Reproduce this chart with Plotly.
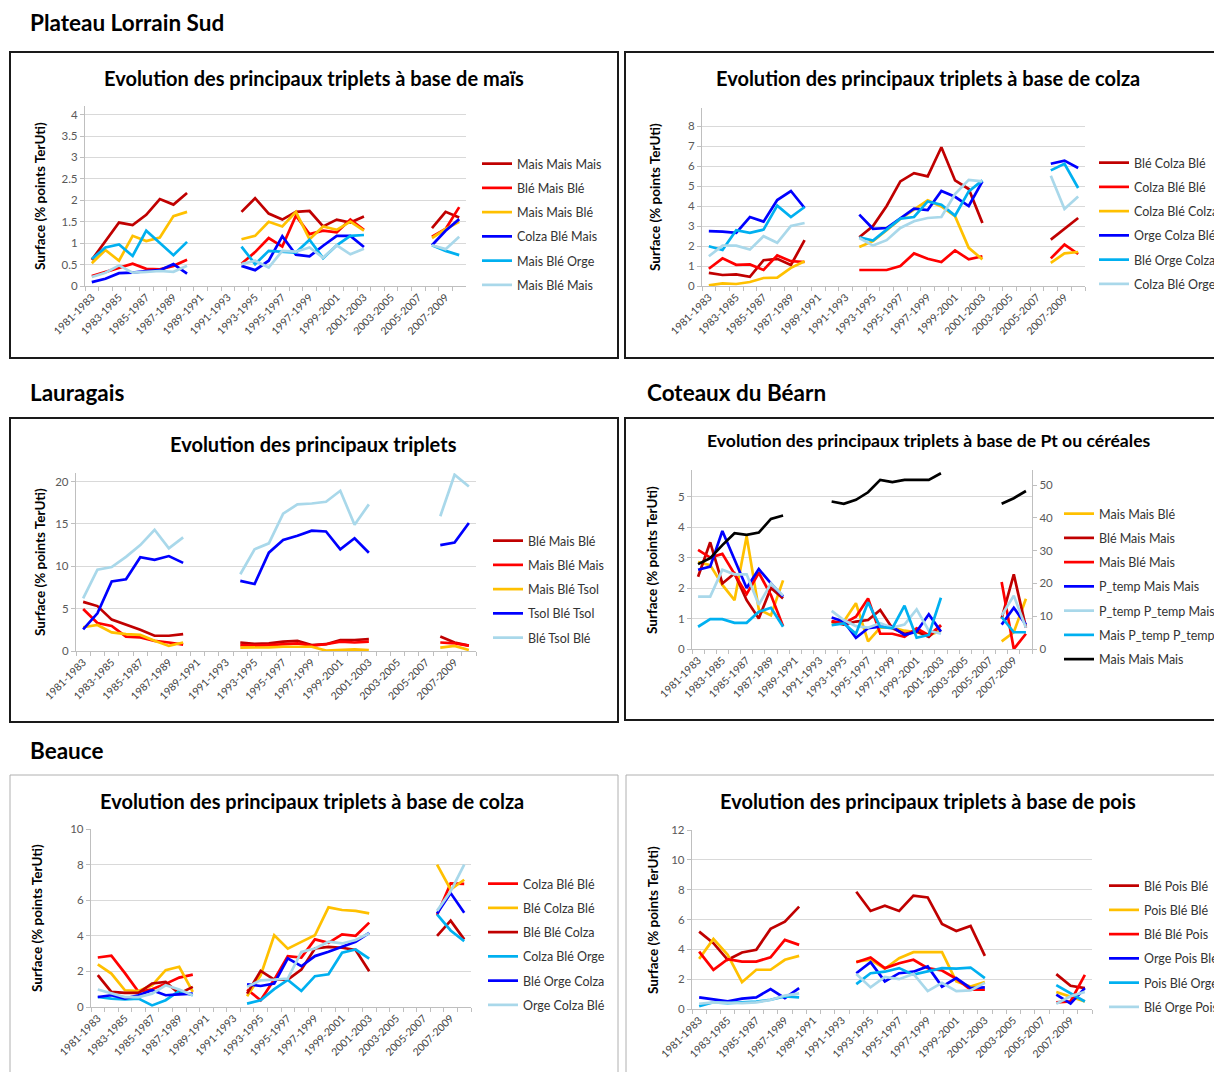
import plotly.graph_objects as go

N = None
FONT = "Lato"

# ---------------- categories ----------------
PERIODS = ["1981-1983", "1982-1984", "1983-1985", "1984-1986", "1985-1987", "1986-1988",
           "1987-1989", "1988-1990", "1989-1991", "1990-1992", "1991-1993", "1992-1994",
           "1993-1995", "1994-1996", "1995-1997", "1996-1998", "1997-1999", "1998-2000",
           "1999-2001", "2000-2002", "2001-2003", "2002-2004", "2003-2005", "2004-2006",
           "2005-2007", "2006-2008", "2007-2009", "2008-2010"]
SHOWN_TICKS = ["1981-1983", "1983-1985", "1985-1987", "1987-1989", "1989-1991", "1991-1993",
               "1993-1995", "1995-1997", "1997-1999", "1999-2001", "2001-2003", "2003-2005",
               "2005-2007", "2007-2009"]

# ---------------- Plateau Lorrain Sud : maïs ----------------
P1_NAMES = ["Mais Mais Mais", "Blé Mais Blé", "Mais Mais Blé", "Colza Blé Mais", "Mais Blé Orge", "Mais Blé Mais"]
P1_MAIS_MAIS_MAIS = [0.61, 1.06, 1.48, 1.42, 1.66, 2.03, 1.9, 2.17, N, N, N,
                     1.73, 2.05, 1.69, 1.55, 1.73, 1.75, 1.39, 1.55, 1.48, 1.62, N, N, N, N, 1.35, 1.73, 1.6]
P1_BLE_MAIS_BLE = [0.23, 0.33, 0.42, 0.52, 0.4, 0.39, 0.47, 0.61, N, N, N,
                   0.52, 0.79, 1.12, 0.92, 1.64, 1.21, 1.29, 1.25, 1.55, 1.31, N, N, N, N, 1.15, 1.33, 1.84]
P1_MAIS_MAIS_BLE = [0.53, 0.84, 0.59, 1.17, 1.05, 1.13, 1.63, 1.73, N, N, N,
                    1.09, 1.17, 1.5, 1.39, 1.73, 1.09, 1.39, 1.31, 1.5, 1.29, N, N, N, N, 1.12, 1.33, 1.5]
P1_COLZA_BLE_MAIS = [0.09, 0.17, 0.3, 0.31, 0.35, 0.37, 0.51, 0.29, N, N, N,
                     0.47, 0.37, 0.59, 1.16, 0.73, 0.69, 0.94, 1.17, 1.17, 0.91, N, N, N, N, 0.95, 1.29, 1.56]
P1_MAIS_BLE_ORGE = [0.63, 0.9, 0.97, 0.7, 1.29, 1.0, 0.72, 1.03, N, N, N,
                    0.92, 0.51, 0.82, 0.8, 0.78, 1.08, 0.65, 0.95, 1.17, 1.19, N, N, N, N, 0.95, 0.82, 0.72]
P1_MAIS_BLE_MAIS = [0.21, 0.31, 0.48, 0.31, 0.33, 0.35, 0.33, 0.47, N, N, N,
                    0.51, 0.59, 0.43, 0.82, 0.8, 0.9, 0.66, 0.95, 0.74, 0.87, N, N, N, N, 0.95, 0.86, 1.15]

# ---------------- Plateau Lorrain Sud : colza ----------------
P2_NAMES = ["Blé Colza Blé", "Colza Blé Blé", "Colza Blé Colza", "Orge Colza Blé", "Blé Orge Colza", "Colza Blé Orge"]
P2_BLE_COLZA_BLE = [0.66, 0.55, 0.58, 0.46, 1.29, 1.36, 1.05, 2.29, N, N, N,
                    2.44, 3.0, 4.0, 5.23, 5.64, 5.48, 6.94, 5.28, 4.85, 3.15, N, N, N, N, 2.32, 2.85, 3.4]
P2_COLZA_BLE_BLE = [0.86, 1.38, 1.06, 1.08, 0.8, 1.53, 1.24, 1.2, N, N, N,
                    0.8, 0.8, 0.8, 1.0, 1.63, 1.36, 1.2, 1.78, 1.33, 1.49, N, N, N, N, 1.38, 2.07, 1.6]
P2_COLZA_BLE_COLZA = [0.03, 0.13, 0.1, 0.2, 0.4, 0.42, 0.91, 1.24, N, N, N,
                      1.95, 2.24, 2.79, 3.35, 3.82, 4.28, 3.98, 3.49, 1.91, 1.33, N, N, N, N, 1.16, 1.63, 1.7]
P2_ORGE_COLZA_BLE = [2.74, 2.72, 2.66, 3.45, 3.22, 4.3, 4.75, 3.9, N, N, N,
                     3.57, 2.86, 2.9, 3.4, 3.87, 3.8, 4.75, 4.46, 4.0, 5.23, N, N, N, N, 6.11, 6.27, 5.9]
P2_BLE_ORGE_COLZA = [1.99, 1.8, 2.79, 2.66, 2.82, 4.02, 3.45, 3.95, N, N, N,
                     2.44, 2.27, 2.82, 3.37, 3.45, 4.23, 4.06, 3.52, 4.73, 5.28, N, N, N, N, 5.78, 6.11, 4.9]
P2_COLZA_BLE_ORGE = [1.49, 2.02, 2.02, 1.82, 2.49, 2.16, 3.0, 3.15, N, N, N,
                     2.4, 2.02, 2.29, 2.9, 3.24, 3.4, 3.45, 4.6, 5.31, 5.23, N, N, N, N, 5.51, 3.85, 4.48]

# ---------------- Lauragais ----------------
P3_NAMES = ["Blé Mais Blé", "Mais Blé Mais", "Mais Blé Tsol", "Tsol Blé Tsol", "Blé Tsol Blé"]
P3_BLE_MAIS_BLE = [5.8, 5.3, 3.7, 3.1, 2.5, 1.8, 1.8, 2.0, N, N, N,
                   1.0, 0.83, 0.9, 1.1, 1.2, 0.7, 0.8, 1.3, 1.3, 1.4, N, N, N, N, 1.7, 1.0, 0.63]
P3_MAIS_BLE_MAIS = [4.95, 3.3, 2.95, 1.7, 1.6, 1.2, 1.0, 0.75, N, N, N,
                    0.7, 0.63, 0.7, 0.83, 0.9, 0.63, 0.8, 1.1, 1.0, 1.1, N, N, N, N, 1.0, 0.9, 0.63]
P3_MAIS_BLE_TSOL = [2.8, 3.07, 2.2, 2.0, 1.9, 1.2, 0.6, 1.0, N, N, N,
                    0.4, 0.4, 0.43, 0.5, 0.5, 0.5, 0.05, 0.12, 0.2, 0.12, N, N, N, N, 0.4, 0.6, 0.12]
P3_TSOL_BLE_TSOL = [2.56, 4.45, 8.2, 8.46, 11.06, 10.75, 11.2, 10.4, N, N, N,
                    8.27, 7.9, 11.6, 13.1, 13.6, 14.2, 14.1, 12.0, 13.3, 11.6, N, N, N, N, 12.5, 12.8, 15.1]
P3_BLE_TSOL_BLE = [6.2, 9.6, 9.9, 11.1, 12.5, 14.3, 12.1, 13.4, N, N, N,
                   9.06, 12.0, 12.7, 16.2, 17.3, 17.4, 17.6, 18.9, 14.9, 17.3, N, N, N, N, 15.9, 20.8, 19.4]

# ---------------- Coteaux du Béarn ----------------
P4_NAMES = ["Mais Mais Blé", "Blé Mais Mais", "Mais Blé Mais", "P_temp Mais Mais",
            "P_temp P_temp Mais", "Mais P_temp P_temp", "Mais Mais Mais"]
P4_MAIS_MAIS_BLE = [2.85, 2.75, 2.1, 1.6, 3.7, 1.3, 1.1, 2.25, N, N, N,
                    0.85, 0.9, 1.5, 0.25, 0.7, 0.7, 0.6, 0.55, 0.45, 0.6, N, N, N, N, 0.25, 0.55, 1.65]
P4_BLE_MAIS_MAIS = [2.37, 3.5, 2.15, 2.48, 1.6, 1.0, 2.0, 1.66, N, N, N,
                    0.9, 0.8, 0.9, 0.95, 1.28, 0.68, 0.5, 0.57, 0.4, 0.78, N, N, N, N, 1.0, 2.45, 0.7]
P4_MAIS_BLE_MAIS = [3.25, 3.0, 3.12, 2.45, 1.8, 2.5, 1.77, 0.75, N, N, N,
                    0.92, 0.84, 1.06, 1.66, 0.5, 0.5, 0.4, 0.68, 0.45, 0.78, N, N, N, N, 2.2, 0.0, 0.5]
P4_PTEMP_MAIS_MAIS = [2.6, 2.7, 3.87, 2.92, 2.0, 2.62, 2.15, 1.72, N, N, N,
                      1.03, 0.9, 0.37, 0.68, 0.73, 0.73, 0.46, 0.57, 1.14, 0.57, N, N, N, N, 0.8, 1.35, 0.8]
P4_PTEMP_PTEMP_MAIS = [1.72, 1.72, 2.6, 2.45, 2.45, 1.45, 2.15, 1.75, N, N, N,
                       1.25, 0.95, 0.75, 0.7, 0.85, 0.7, 0.8, 1.3, 0.6, 0.5, N, N, N, N, 1.1, 1.75, 0.7]
P4_MAIS_PTEMP_PTEMP = [0.73, 0.98, 0.98, 0.86, 0.86, 1.22, 1.35, 0.73, N, N, N,
                       0.78, 0.84, 0.5, 1.53, 0.73, 0.68, 1.42, 0.37, 0.46, 1.68, N, N, N, N, 1.05, 0.55, 0.55]
P4_MAIS_MAIS_MAIS_RIGHT = [25.9, 27.7, 31.7, 35.3, 34.8, 35.5, 39.7, 40.7, N, N, N,
                           45.0, 44.3, 45.5, 47.8, 51.6, 50.9, 51.6, 51.6, 51.6, 53.6, N, N, N, N, 44.3, 46.0, 48.2]

# ---------------- Beauce : colza ----------------
P5_NAMES = ["Colza Blé Blé", "Blé Colza Blé", "Blé Blé Colza", "Colza Blé Orge", "Blé Orge Colza", "Orge Colza Blé"]
P5_COLZA_BLE_BLE = [2.78, 2.88, 1.9, 0.85, 1.0, 1.3, 1.65, 1.82, N, N, N,
                    0.98, 0.38, 1.54, 2.86, 2.78, 3.8, 3.6, 4.08, 4.0, 4.74, N, N, N, N, 5.17, 6.95, 6.92]
P5_BLE_COLZA_BLE = [2.4, 1.88, 0.94, 0.9, 1.22, 2.07, 2.26, 0.85, N, N, N,
                    0.6, 1.78, 4.03, 3.28, 3.66, 4.03, 5.6, 5.45, 5.4, 5.26, N, N, N, N, 8.0, 6.6, 7.15]
P5_BLE_BLE_COLZA = [1.79, 0.85, 0.79, 0.79, 1.32, 1.41, 0.75, 1.13, N, N, N,
                    0.75, 2.03, 1.54, 1.54, 2.1, 3.29, 3.38, 3.33, 3.2, 2.01, N, N, N, N, 4.0, 4.85, 3.8]
P5_COLZA_BLE_ORGE = [0.56, 0.47, 0.43, 0.47, 0.09, 0.38, 0.9, 0.66, N, N, N,
                     0.19, 0.38, 1.0, 1.52, 0.9, 1.73, 1.84, 3.05, 3.23, 2.72, N, N, N, N, 5.2, 4.3, 3.7]
P5_BLE_ORGE_COLZA = [0.56, 0.66, 0.47, 0.66, 0.94, 0.66, 0.71, 0.75, N, N, N,
                     1.28, 1.18, 1.32, 2.73, 2.29, 2.86, 3.1, 3.38, 3.67, 4.17, N, N, N, N, 5.25, 6.4, 5.3]
P5_ORGE_COLZA_BLE = [0.98, 0.75, 0.56, 0.56, 0.75, 1.22, 0.98, 0.66, N, N, N,
                     1.13, 1.5, 1.54, 1.6, 3.1, 3.29, 3.67, 3.57, 3.76, 4.14, N, N, N, N, 5.4, 6.5, 8.0]

# ---------------- Beauce : pois ----------------
P6_NAMES = ["Blé Pois Blé", "Pois Blé Blé", "Blé Blé Pois", "Orge Pois Blé", "Pois Blé Orge", "Blé Orge Pois"]
P6_BLE_POIS_BLE = [5.19, 4.41, 3.3, 3.79, 3.97, 5.37, 5.86, 6.86, N, N, N,
                   7.86, 6.57, 6.93, 6.57, 7.6, 7.48, 5.7, 5.23, 5.57, 3.56, N, N, N, N, 2.34, 1.56, 1.4]
P6_POIS_BLE_BLE = [3.36, 4.7, 3.63, 1.8, 2.63, 2.63, 3.3, 3.56, N, N, N,
                   3.18, 3.3, 2.7, 3.41, 3.81, 3.81, 3.81, 1.85, 1.51, 1.8, N, N, N, N, 1.14, 0.85, 0.51]
P6_BLE_BLE_POIS = [3.85, 2.63, 3.34, 3.18, 3.18, 3.47, 4.63, 4.3, N, N, N,
                   3.14, 3.45, 2.74, 3.07, 3.3, 2.74, 2.58, 2.03, 1.29, 1.29, N, N, N, N, 0.45, 0.51, 2.29]
P6_ORGE_POIS_BLE = [0.78, 0.62, 0.51, 0.69, 0.78, 1.34, 0.73, 1.4, N, N, N,
                    2.4, 3.14, 1.85, 2.4, 2.5, 2.85, 1.5, 2.07, 1.4, 1.45, N, N, N, N, 0.96, 0.36, 1.4]
P6_POIS_BLE_ORGE = [0.18, 0.45, 0.4, 0.45, 0.5, 0.62, 0.85, 0.78, N, N, N,
                    1.67, 2.4, 2.5, 2.74, 2.3, 2.5, 2.74, 2.7, 2.78, 2.07, N, N, N, N, 1.6, 1.05, 0.5]
P6_BLE_ORGE_POIS = [0.35, 0.45, 0.42, 0.4, 0.45, 0.6, 0.9, 1.05, N, N, N,
                    2.35, 1.45, 2.15, 2.0, 2.35, 1.2, 1.75, 1.2, 1.25, 1.75, N, N, N, N, 0.35, 0.85, 1.15]

# ---------------- styling ----------------
DR, RD, YE, BL, CY, LB, BK = "#C00000", "#FF0000", "#FFC000", "#0000FF", "#00B0F0", "#A9D8EA", "#000000"
OFF = 8                      # page body margin of the html page
W, H = 1222 - OFF, 1072 - OFF


def px(x):
    return (x - OFF) / W


def py(y):
    return 1 - (y - OFF) / H


TICKTEXT = [p if p in SHOWN_TICKS else "" for p in PERIODS]

fig = go.Figure()

panels = [
    # id, names, series, colors, x-domain(px), y-top, y-bottom(px), y-range, dtick
    (1, P1_NAMES, [P1_MAIS_MAIS_MAIS, P1_BLE_MAIS_BLE, P1_MAIS_MAIS_BLE, P1_COLZA_BLE_MAIS, P1_MAIS_BLE_ORGE, P1_MAIS_BLE_MAIS],
     [DR, RD, YE, BL, CY, LB], (85, 466), 106, 286, [0, 4.2], 0.5),
    (2, P2_NAMES, [P2_BLE_COLZA_BLE, P2_COLZA_BLE_BLE, P2_COLZA_BLE_COLZA, P2_ORGE_COLZA_BLE, P2_BLE_ORGE_COLZA, P2_COLZA_BLE_ORGE],
     [DR, RD, YE, BL, CY, LB], (702, 1085), 108, 286, [0, 8.9], 1),
    (3, P3_NAMES, [P3_BLE_MAIS_BLE, P3_MAIS_BLE_MAIS, P3_MAIS_BLE_TSOL, P3_TSOL_BLE_TSOL, P3_BLE_TSOL_BLE],
     [DR, RD, YE, BL, LB], (76, 476), 473, 651, [0, 21], 5),
    (4, P4_NAMES[:6], [P4_MAIS_MAIS_BLE, P4_BLE_MAIS_MAIS, P4_MAIS_BLE_MAIS, P4_PTEMP_MAIS_MAIS, P4_PTEMP_PTEMP_MAIS, P4_MAIS_PTEMP_PTEMP],
     [YE, DR, RD, BL, LB, CY], (692, 1032), 470, 649, [0, 5.87], 1),
    (5, P5_NAMES, [P5_COLZA_BLE_BLE, P5_BLE_COLZA_BLE, P5_BLE_BLE_COLZA, P5_COLZA_BLE_ORGE, P5_BLE_ORGE_COLZA, P5_ORGE_COLZA_BLE],
     [RD, YE, DR, CY, BL, LB], (91, 471), 829, 1007, [0, 10], 2),
    (6, P6_NAMES, [P6_BLE_POIS_BLE, P6_POIS_BLE_BLE, P6_BLE_BLE_POIS, P6_ORGE_POIS_BLE, P6_POIS_BLE_ORGE, P6_BLE_ORGE_POIS],
     [DR, YE, RD, BL, CY, LB], (692, 1092), 830, 1009, [0, 12], 2),
]

legend_pos = {1: (477, 149), 2: (1094, 148), 3: (488, 526), 4: (1059, 499), 5: (483, 869), 6: (1104, 871)}

layout_extra = {}
for pid, names, series, colors, xd, ytop, ybot, yr, dt in panels:
    lg = "legend" if pid == 1 else f"legend{pid}"
    for j, (nm, vals, col) in enumerate(zip(names, series, colors)):
        fig.add_trace(go.Scatter(x=PERIODS, y=vals, name=nm, mode="lines",
                                 line=dict(color=col, width=2.7), connectgaps=False,
                                 xaxis=f"x{pid}", yaxis=f"y{pid}", legend=lg,
                                 legendgroup=f"g{pid}_{j}"))
    if pid == 4:
        fig.add_trace(go.Scatter(x=PERIODS, y=P4_MAIS_MAIS_MAIS_RIGHT, name=P4_NAMES[6], mode="lines",
                                 line=dict(color=BK, width=2.7), connectgaps=False,
                                 xaxis="x4", yaxis="y7", legend=lg, legendgroup="g4_6"))
    layout_extra[f"xaxis{pid}"] = dict(
        domain=[px(xd[0]), px(xd[1])], anchor=f"y{pid}", type="category",
        categoryorder="array", categoryarray=PERIODS, range=[-0.5, 27.5],
        tickmode="array", tickvals=PERIODS, ticktext=TICKTEXT, tickangle=-45,
        tickson="boundaries", ticks="outside", ticklen=4, tickcolor="#BFBFBF",
        showline=True, linecolor="#BFBFBF", linewidth=1.3, showgrid=False, zeroline=False,
        automargin=False, tickfont=dict(family=FONT, size=10.5, color="#404040"))
    layout_extra[f"yaxis{pid}"] = dict(
        domain=[py(ybot), py(ytop)], anchor=f"x{pid}", range=yr, tick0=0, dtick=dt,
        showgrid=True, gridcolor="#D9D9D9", gridwidth=1.3, zeroline=False,
        showline=True, linecolor="#BFBFBF", linewidth=1.3, ticks="outside", ticklen=4,
        automargin=False, tickcolor="#BFBFBF", tickfont=dict(family=FONT, size=11.5, color="#595959"))
    lx, ly = legend_pos[pid]
    layout_extra[lg] = dict(x=px(lx), y=py(ly), xanchor="left", yanchor="top",
                            bgcolor="rgba(0,0,0,0)", itemwidth=30, traceorder="grouped",
                            tracegroupgap=5, font=dict(family=FONT, size=12.5, color="#333333"))

layout_extra["yaxis7"] = dict(
    overlaying="y4", side="right", anchor="x4", range=[0, 54.6], tick0=0, dtick=10,
    showgrid=False, zeroline=False, showline=True, linecolor="#BFBFBF", linewidth=1.3,
    ticks="outside", ticklen=4, tickcolor="#BFBFBF", automargin=False,
    tickfont=dict(family=FONT, size=11.5, color="#595959"))

annotations = []
titles = [
    ("Evolution des principaux triplets à base de maïs", 314, 78, 20),
    ("Evolution des principaux triplets à base de colza", 928, 78, 20),
    ("Evolution des principaux triplets", 313, 444, 20),
    ("Evolution des principaux triplets à base de Pt ou céréales", 929, 441, 17.6),
    ("Evolution des principaux triplets à base de colza", 312, 801, 20),
    ("Evolution des principaux triplets à base de pois", 928, 801, 20),
]
for txt, x, y, s in titles:
    annotations.append(dict(text=txt, x=px(x), y=py(y), xref="paper", yref="paper",
                            xanchor="center", yanchor="middle", showarrow=False,
                            font=dict(family=FONT, size=s, color="#000000", weight="bold")))
sections = [("Plateau Lorrain Sud", 28, 22), ("Lauragais", 28, 392),
            ("Coteaux du Béarn", 645, 392), ("Beauce", 28, 750)]
for txt, x, y in sections:
    annotations.append(dict(text=txt, x=px(x), y=py(y), xref="paper", yref="paper",
                            xanchor="left", yanchor="middle", showarrow=False,
                            font=dict(family=FONT, size=22.5, color="#000000", weight="bold")))
ytitles = [(40, 196), (655, 197), (40, 562), (652, 560), (37, 918), (653, 920)]
for x, y in ytitles:
    annotations.append(dict(text="Surface (% points TerUti)", x=px(x), y=py(y), xref="paper", yref="paper",
                            xanchor="center", yanchor="middle", showarrow=False, textangle=-90,
                            font=dict(family=FONT, size=13.5, color="#000000", weight="bold")))

shapes = []
for x0, y0, x1, y1 in [(10, 52, 618, 358), (625, 52, 1225, 358), (10, 418, 618, 722), (625, 418, 1225, 720)]:
    shapes.append(dict(type="rect", xref="paper", yref="paper", x0=px(x0), x1=px(x1), y0=py(y1), y1=py(y0),
                       line=dict(color="#1A1A1A", width=2), fillcolor="rgba(0,0,0,0)"))
for x0, y0, x1, y1 in [(10, 775, 618, 1080), (626, 775, 1225, 1080)]:
    shapes.append(dict(type="rect", xref="paper", yref="paper", x0=px(x0), x1=px(x1), y0=py(y1), y1=py(y0),
                       line=dict(color="#B0B0B0", width=1), fillcolor="rgba(0,0,0,0)"))

fig.update_layout(width=W, height=H, margin=dict(l=0, r=0, t=0, b=0, pad=0, autoexpand=False),
                  paper_bgcolor="white", plot_bgcolor="white", showlegend=True,
                  annotations=annotations, shapes=shapes, font=dict(family=FONT),
                  **layout_extra)

fig.write_html("out.html")
